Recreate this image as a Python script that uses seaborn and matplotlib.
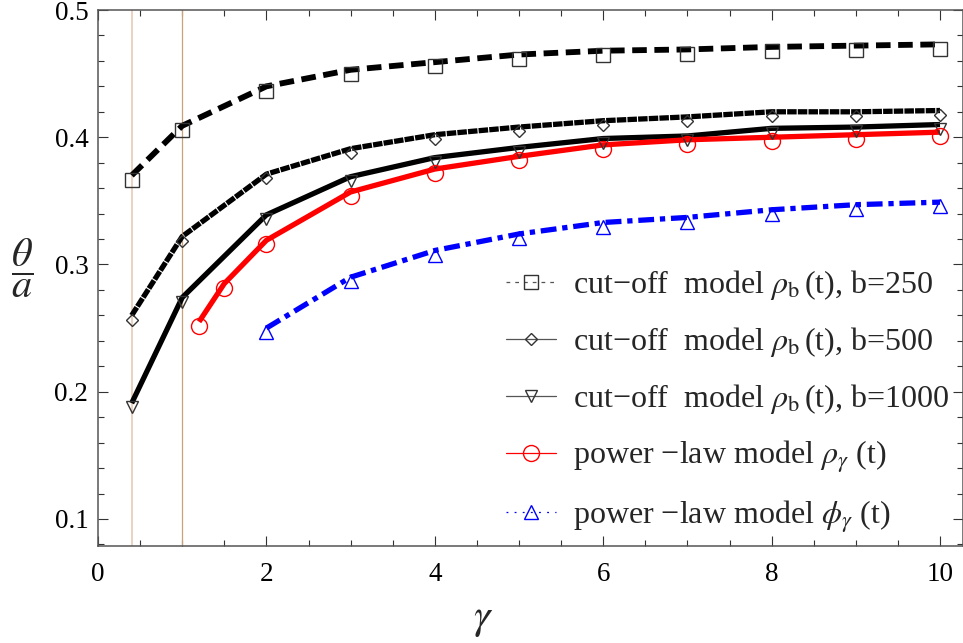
import matplotlib
matplotlib.use("Agg")
import matplotlib.pyplot as plt
from matplotlib.lines import Line2D
from matplotlib.ticker import MultipleLocator
from matplotlib.transforms import offset_copy
import numpy as np
import pandas as pd
import seaborn as sns

# ---- data -------------------------------------------------------------
gamma_cut = [0.4, 1, 2, 3, 4, 5, 6, 7, 8, 9, 10]
cut_b250 = [0.370, 0.409, 0.440, 0.453, 0.459, 0.465, 0.468, 0.469, 0.471, 0.472, 0.473]
cut_b500 = [0.260, 0.322, 0.371, 0.391, 0.402, 0.408, 0.413, 0.416, 0.420, 0.420, 0.421]
cut_b1000 = [0.191, 0.274, 0.339, 0.369, 0.384, 0.392, 0.399, 0.401, 0.407, 0.408, 0.410]

gamma_rho = [1.2, 1.5, 2, 3, 4, 5, 6, 7, 8, 9, 10]
pow_rho = [0.255, 0.285, 0.319, 0.357, 0.375, 0.385, 0.394, 0.398, 0.400, 0.402, 0.404]

gamma_phi = [2, 3, 4, 5, 6, 7, 8, 9, 10]
pow_phi = [0.250, 0.290, 0.311, 0.324, 0.333, 0.337, 0.343, 0.347, 0.349]

labels = [
    "cut\u2212off  model $\\rho_{\\mathrm{b}}\\,$(t), b=250",
    "cut\u2212off  model $\\rho_{\\mathrm{b}}\\,$(t), b=500",
    "cut\u2212off  model $\\rho_{\\mathrm{b}}\\,$(t), b=1000",
    "power \u2212law model $\\rho_{\\gamma}$ (t)",
    "power \u2212law model $\\phi_{\\gamma}$ (t)",
]
ref_lines = [0.4, 1.0]

# ---- style ------------------------------------------------------------
sns.set_theme(style="ticks")
plt.rcParams["font.family"] = ["Liberation Serif", "DejaVu Serif"]
plt.rcParams["mathtext.fontset"] = "stix"

W, H = 963, 643
fig = plt.figure(figsize=(W / 100, H / 100), dpi=100)
ax = fig.add_axes([98 / W, 1 - 545.7 / H, 1 - 98 / W, (545.7 - 10) / H])

ax.set_xlim(0, 10.273)
ax.set_ylim(0.079, 0.5)

# reference verticals
ax.axvline(ref_lines[0], color="#ecd2c0", lw=1.4, zorder=1)
ax.axvline(ref_lines[1], color="#c9a27a", lw=0.9, zorder=1)

series = [
    dict(x=gamma_cut, y=cut_b250, color="black", ls=(0, (2.5, 1.3)), lw=4.2,
         marker="s", ms=9.5, mec="#333333", hls=(0, (3, 4))),
    dict(x=gamma_cut, y=cut_b500, color="black", ls=(0, (1.8, 0.22)), lw=3.8,
         marker="D", ms=6.5, mec="#333333", hls="-"),
    dict(x=gamma_cut, y=cut_b1000, color="black", ls="-", lw=3.8,
         marker="v", ms=9.0, mec="#333333", hls="-"),
    dict(x=gamma_rho, y=pow_rho, color="#ff0000", ls="-", lw=3.8,
         marker="o", ms=11.5, mec="#ff0000", hls="-"),
    dict(x=gamma_phi, y=pow_phi, color="#0000ff", ls=(0, (3.0, 1.1, 1.0, 1.1)), lw=3.8,
         marker="^", ms=9.6, mec="#0000ff", hls=(0, (1.5, 5))),
]

# markers sit a little below the curve they belong to
mark_trans = offset_copy(ax.transData, fig=fig, x=0, y=-3, units="points")

handles = []
for s, lab in zip(series, labels):
    df = pd.DataFrame({"gamma": s["x"], "value": s["y"]})
    sns.lineplot(data=df, x="gamma", y="value", ax=ax, color=s["color"],
                 lw=s["lw"], linestyle=s["ls"], solid_capstyle="butt",
                 dash_capstyle="butt", zorder=3, legend=False)
    ax.plot(s["x"], s["y"], ls="none", marker=s["marker"], ms=s["ms"],
            mfc="none", mec=s["mec"], mew=1.0, transform=mark_trans, zorder=4)
    hcol = "#555555" if s["color"] == "black" else s["color"]
    handles.append(Line2D([], [], color=hcol, lw=0.9, linestyle=s["hls"],
                          marker=s["marker"], ms=s["ms"], mfc="none",
                          mec=s["mec"], mew=1.0))

ax.set_xlabel("")
ax.set_ylabel("")

# ---- axes decoration --------------------------------------------------
ax.xaxis.set_major_locator(MultipleLocator(2))
ax.xaxis.set_minor_locator(MultipleLocator(0.5))
ax.yaxis.set_major_locator(MultipleLocator(0.1))
ax.yaxis.set_minor_locator(MultipleLocator(0.02))
ax.set_xticklabels([f"{int(v)}" for v in ax.get_xticks()])
ax.set_yticks([0.1, 0.2, 0.3, 0.4, 0.5])
ax.set_yticklabels(["0.1", "0.2", "0.3", "0.4", "0.5"])

for sp in ax.spines.values():
    sp.set_visible(True)
    sp.set_color("#555555")
    sp.set_linewidth(1.1)

ax.tick_params(which="both", direction="in", top=True, right=True,
               color="#333333", width=0.8, labelsize=19.5, labelcolor="black")
ax.tick_params(which="major", length=7.5)
ax.tick_params(which="minor", length=4.2)
ax.tick_params(axis="x", which="major", pad=12)
ax.tick_params(axis="y", which="major", pad=7)

fig.text(483 / W, 1 - 620 / H, r"$\gamma$", fontsize=30, ha="center", va="center")
fig.text(22 / W, 1 - 268 / H, r"$\dfrac{\theta}{a}$", fontsize=29,
         ha="center", va="center")

leg = ax.legend(handles, labels, loc="upper left",
                bbox_to_anchor=(506 / W, 1 - 268 / H), bbox_transform=fig.transFigure,
                frameon=False, fontsize=23, handlelength=1.55, handletextpad=0.55,
                labelspacing=0.72, borderpad=0, borderaxespad=0)

fig.savefig("out.png", dpi=100)
